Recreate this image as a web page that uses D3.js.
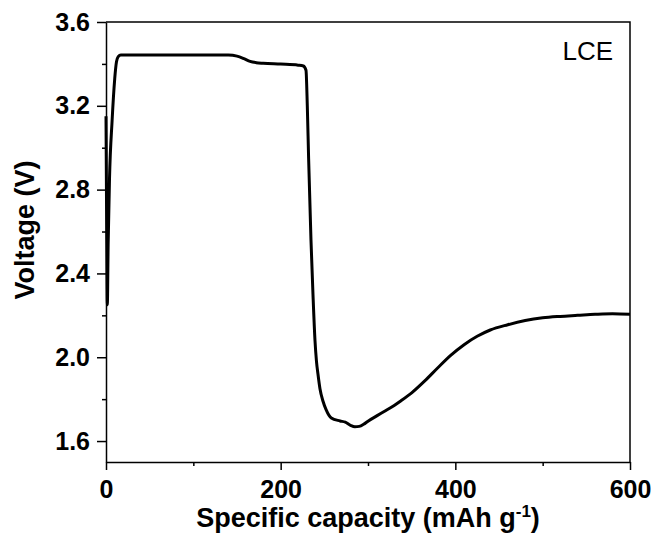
<!DOCTYPE html>
<html>
<head>
<meta charset="utf-8">
<script src="https://cdn.jsdelivr.net/npm/d3@7"></script>
<style>
  body { margin: 0; background: #fff; }
  text { font-family: "Liberation Sans", Arial, sans-serif; }
</style>
</head>
<body>
<div id="chart"></div>
<script>
// charge/discharge curve
const capacity = [0, 0.8, 1.5, 2.5, 4, 7, 10, 12, 14, 17, 50, 100, 140, 150, 158, 165, 172, 180, 200, 220, 226,
  229, 230.5, 232, 234.7, 237, 239.3, 241, 242.7, 245, 248.5, 252, 258, 268, 274, 280, 285, 290, 295, 300,
  310, 320, 330, 337, 350, 365, 380, 395, 410, 425, 440, 460, 480, 500, 520, 540, 560, 580, 600];
const voltage = [3.15, 2.6, 2.25, 2.55, 2.85, 3.13, 3.33, 3.41, 3.435, 3.443, 3.443, 3.443, 3.442, 3.437, 3.425, 3.412, 3.406, 3.403, 3.399, 3.394, 3.39,
  3.37, 3.2, 2.95, 2.56, 2.3, 2.08, 1.98, 1.92, 1.85, 1.79, 1.75, 1.71, 1.696, 1.69, 1.675, 1.668, 1.67, 1.68, 1.695,
  1.72, 1.745, 1.77, 1.79, 1.83, 1.887, 1.95, 2.01, 2.06, 2.1, 2.13, 2.155, 2.175, 2.188, 2.195, 2.2, 2.205, 2.208, 2.205];

const xTicks = [0, 200, 400, 600];
const xMinor = [100, 300, 500];
const yTicks = [1.6, 2.0, 2.4, 2.8, 3.2, 3.6];
const yMinor = [1.8, 2.2, 2.6, 3.0, 3.4];

const width = 657, height = 548;
const margin = { top: 22, right: 27, bottom: 86, left: 106 };
const innerW = width - margin.left - margin.right;
const innerH = height - margin.top - margin.bottom;

const svg = d3.select("#chart").append("svg")
  .attr("width", width)
  .attr("height", height);

const g = svg.append("g").attr("transform", `translate(${margin.left},${margin.top})`);

const x = d3.scaleLinear().domain([0, 600]).range([0, innerW]);
const y = d3.scaleLinear().domain([1.5, 3.6]).range([innerH, 0]);

// frame (top + right)
g.append("path")
  .attr("d", `M0,0H${innerW}V${innerH}`)
  .attr("fill", "none")
  .attr("stroke", "#000")
  .attr("stroke-width", 1.5);

// minor ticks first, then major axes on top
g.append("g")
  .attr("transform", `translate(0,${innerH})`)
  .call(d3.axisBottom(x).tickValues(xMinor).tickSize(4).tickFormat(""))
  .call((a) => a.select(".domain").remove());
g.append("g")
  .call(d3.axisLeft(y).tickValues(yMinor).tickSize(4).tickFormat(""))
  .call((a) => a.select(".domain").remove());

const xAxis = g.append("g")
  .attr("transform", `translate(0,${innerH})`)
  .call(d3.axisBottom(x).tickValues(xTicks).tickSize(8).tickSizeOuter(0).tickPadding(10).tickFormat(d3.format("d")));
const yAxis = g.append("g")
  .call(d3.axisLeft(y).tickValues(yTicks).tickSize(9).tickSizeOuter(0).tickPadding(7).tickFormat(d3.format(".1f")));

[xAxis, yAxis].forEach((a) => {
  a.selectAll("line, path").attr("stroke", "#000").attr("stroke-width", 1.5);
  a.selectAll("text")
    .attr("fill", "#000")
    .style("font-family", "'Liberation Sans', Arial, sans-serif")
    .style("font-size", "25px")
    .style("font-weight", "bold");
});
g.selectAll(".tick line").attr("stroke", "#000").attr("stroke-width", 1.5);

// curve
const pts = capacity.map((c, i) => [c, voltage[i]]);
g.append("path")
  .datum(pts)
  .attr("fill", "none")
  .attr("stroke", "#000")
  .attr("stroke-width", 3)
  .attr("stroke-linejoin", "round")
  .attr("d", d3.line().x((d) => x(d[0])).y((d) => y(d[1])).curve(d3.curveMonotoneX));

// label
g.append("text")
  .attr("x", innerW - 17)
  .attr("y", 38)
  .attr("text-anchor", "end")
  .style("font-size", "26px")
  .text("LCE");

// axis titles
const xt = svg.append("text")
  .attr("x", margin.left + innerW / 2)
  .attr("y", 527)
  .attr("text-anchor", "middle")
  .style("font-size", "27px")
  .style("font-weight", "bold");
xt.append("tspan").text("Specific capacity (mAh g");
xt.append("tspan").attr("dy", -10).style("font-size", "17px").text("-1");
xt.append("tspan").attr("dy", 10).text(")");

svg.append("text")
  .attr("transform", `translate(34,${margin.top + innerH / 2 - 12}) rotate(-90)`)
  .attr("text-anchor", "middle")
  .style("font-size", "27px")
  .style("font-weight", "bold")
  .text("Voltage (V)");
</script>
</body>
</html>
